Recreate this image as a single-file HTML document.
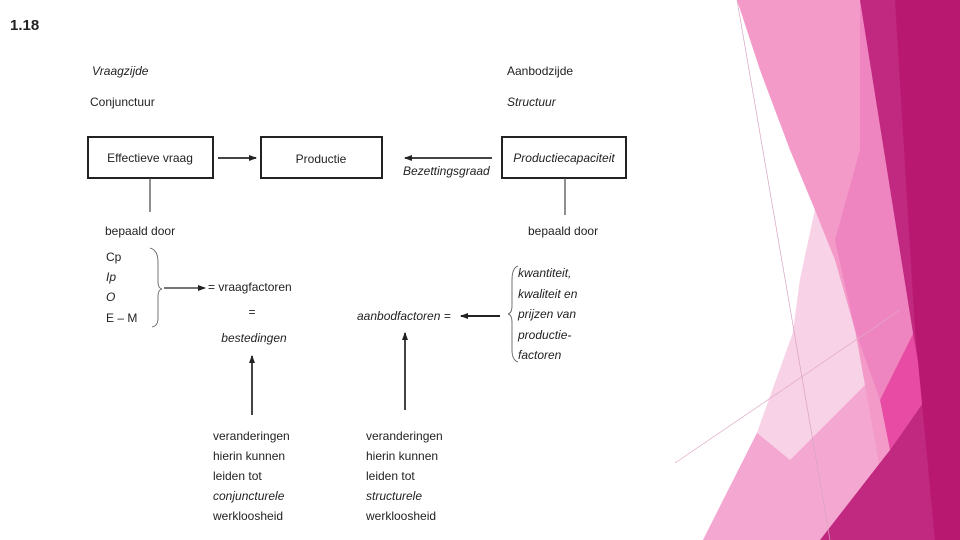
<!DOCTYPE html>
<html><head><meta charset="utf-8"><style>
html,body{margin:0;padding:0;background:#fff;width:960px;height:540px;overflow:hidden}
svg{display:block}
text{font-family:"Liberation Sans",sans-serif;font-size:12px;fill:#222}
.i{font-style:italic}
</style></head><body>
<svg width="960" height="540" viewBox="0 0 960 540" xmlns="http://www.w3.org/2000/svg">
<defs><marker id="a" markerWidth="8" markerHeight="6" refX="7" refY="3" orient="auto" markerUnits="userSpaceOnUse"><path d="M0,0 L8,3 L0,6 z" fill="#222"/></marker></defs>
<!-- pink decoration -->
<polygon points="737,0 960,0 960,540 703,540 757,433 793,333 800,280 815,210 790,150 760,70" fill="#f39ac9"/>
<polygon points="815,210 835,260 855,330 865,385 830,425 790,460 757,433 793,333 800,280" fill="#f8d2e6"/>
<polygon points="703,540 757,433 790,460 865,385 880,470 860,540" fill="#f4a8d1"/>
<polygon points="860,0 900,0 905,200 915,330 880,400 855,330 835,240 860,150" fill="#ee85c0"/>
<polygon points="880,400 915,330 925,400 890,450" fill="#e74ba3"/>
<polygon points="860,0 960,0 960,540 820,540 890,450 925,400 913,333" fill="#c1287f"/>
<polygon points="895,0 960,0 960,540 935,540 915,330" fill="#b8186f"/>
<line x1="737" y1="0" x2="830" y2="540" stroke="#d9a3c2" stroke-width="0.7"/>
<line x1="675" y1="463" x2="900" y2="310" stroke="#e0a8c8" stroke-width="0.7"/>
<!-- title -->
<text x="10" y="30" style="font-size:15px;font-weight:bold" fill="#222">1.18</text>
<text x="92" y="75" class="i">Vraagzijde</text>
<text x="90" y="106">Conjunctuur</text>
<text x="507" y="75">Aanbodzijde</text>
<text x="507" y="106" class="i">Structuur</text>
<!-- boxes -->
<rect x="88" y="137" width="125" height="41" fill="none" stroke="#222" stroke-width="2"/>
<text x="150" y="162" text-anchor="middle">Effectieve vraag</text>
<rect x="261" y="137" width="121" height="41" fill="none" stroke="#222" stroke-width="2"/>
<text x="321" y="163" text-anchor="middle">Productie</text>
<rect x="502" y="137" width="124" height="41" fill="none" stroke="#222" stroke-width="2"/>
<text x="564" y="162" text-anchor="middle" class="i">Productiecapaciteit</text>
<line x1="218" y1="158" x2="256" y2="158" stroke="#444" stroke-width="2" marker-end="url(#a)"/>
<line x1="492" y1="158" x2="405" y2="158" stroke="#444" stroke-width="2" marker-end="url(#a)"/>
<text x="403" y="175" class="i">Bezettingsgraad</text>
<line x1="150" y1="178" x2="150" y2="212" stroke="#444" stroke-width="1.2"/>
<line x1="565" y1="178" x2="565" y2="215" stroke="#444" stroke-width="1.2"/>
<text x="105" y="235">bepaald door</text>
<text x="528" y="235">bepaald door</text>
<text x="106" y="261">Cp</text>
<text x="106" y="281" class="i">Ip</text>
<text x="106" y="301" class="i">O</text>
<text x="106" y="322">E – M</text>
<path d="M150,248 Q158,250 158,262 L158,282 Q158,288 162,289 Q158,290 158,296 L158,318 Q158,326 152,327" fill="none" stroke="#555" stroke-width="0.8"/>
<line x1="164" y1="288" x2="205" y2="288" stroke="#222" stroke-width="1.2" marker-end="url(#a)"/>
<text x="208" y="291">= vraagfactoren</text>
<text x="252" y="316" text-anchor="middle">=</text>
<text x="254" y="342" text-anchor="middle" class="i">bestedingen</text>
<line x1="252" y1="415" x2="252" y2="356" stroke="#444" stroke-width="2" marker-end="url(#a)"/>
<text x="357" y="320" class="i">aanbodfactoren =</text>
<line x1="500" y1="316" x2="461" y2="316" stroke="#222" stroke-width="2" marker-end="url(#a)"/>
<path d="M518,266 Q512,268 512,280 L512,306 Q512,313 508,314 Q512,315 512,322 L512,350 Q512,360 518,362" fill="none" stroke="#555" stroke-width="0.8"/>
<text x="518" y="277" class="i">kwantiteit,</text>
<text x="518" y="298" class="i">kwaliteit en</text>
<text x="518" y="318" class="i">prijzen van</text>
<text x="518" y="339" class="i">productie-</text>
<text x="518" y="359" class="i">factoren</text>
<line x1="405" y1="410" x2="405" y2="333" stroke="#444" stroke-width="2" marker-end="url(#a)"/>
<text x="213" y="440">veranderingen</text>
<text x="213" y="460">hierin kunnen</text>
<text x="213" y="480">leiden tot</text>
<text x="213" y="500" class="i">conjuncturele</text>
<text x="213" y="520">werkloosheid</text>
<text x="366" y="440">veranderingen</text>
<text x="366" y="460">hierin kunnen</text>
<text x="366" y="480">leiden tot</text>
<text x="366" y="500" class="i">structurele</text>
<text x="366" y="520">werkloosheid</text>
</svg>
</body></html>
